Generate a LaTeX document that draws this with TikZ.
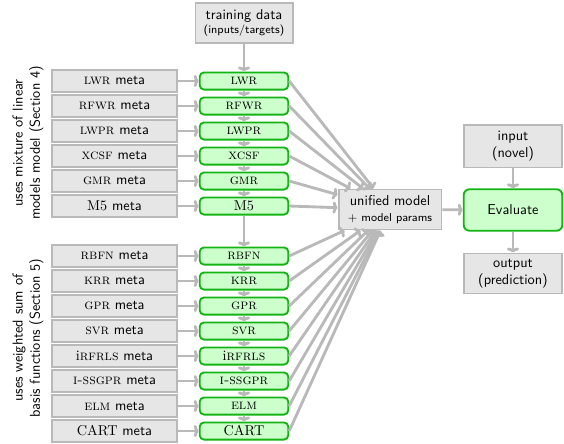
\documentclass[tikz,border=0pt]{standalone}
\usepackage{amsmath}
\usepackage{xcolor}
\usetikzlibrary{arrows.meta}

\definecolor{boxgray}{RGB}{230,230,230}
\definecolor{linegray}{RGB}{185,185,185}
\definecolor{boxgreen}{RGB}{204,255,204}
\definecolor{edgegreen}{RGB}{20,180,20}

\tikzset{
  graybox/.style = {draw = linegray, fill = boxgray, line width = 1.3pt, font = \sffamily, align = center, inner sep = 2pt},
  metabox/.style = {graybox, minimum width = 87pt, minimum height = 15pt},
  algbox/.style = {draw = edgegreen, fill = boxgreen, line width = 1.3pt, rounded corners = 3pt, minimum width = 62pt, minimum height = 12pt, inner sep = 1pt},
  flow/.style = {draw = linegray, line width = 2pt, -{To[length=3.5pt, width=8.5pt]}}
}

\begin{document}
\begin{tikzpicture}[x = 0.7pt, y = -0.7pt]
\useasboundingbox (0,0) rectangle (564,443);

\node[graybox, minimum width = 68pt, minimum height = 28pt] (train) at (244, 23) {training data\\[-2pt]{\footnotesize (inputs/targets)}};
\node[graybox, minimum width = 72pt, minimum height = 28pt] (unified) at (390, 209.5) {unified model\\[-1pt]{\footnotesize $+$ model params}};
\node[draw = edgegreen, fill = boxgreen, line width = 1.3pt, rounded corners = 4pt, font = \sffamily, minimum width = 69pt, minimum height = 29pt] (eval) at (513, 210) {Evaluate};
\node[graybox, minimum width = 69pt, minimum height = 30pt] (input) at (513, 146) {input\\(novel)};
\node[graybox, minimum width = 69pt, minimum height = 28pt] (output) at (513, 273.5) {output\\(prediction)};

\node[rotate = 90, font = \sffamily, align = center] (secfour) at (28, 143) {uses mixture of linear\\models model (Section 4)};
\node[rotate = 90, font = \sffamily, align = center] (secfive) at (28, 338) {uses weighted sum of\\basis functions (Section 5)};

\foreach \name/\lbl/\y in {lwr/\textsc{lwr}/81, rfwr/\textsc{rfwr}/106, lwpr/\textsc{lwpr}/131, xcsf/\textsc{xcsf}/156, gmr/\textsc{gmr}/181, mfive/M5/206,
  rbfn/\textsc{rbfn}/256, krr/\textsc{krr}/281, gpr/\textsc{gpr}/306, svr/\textsc{svr}/331, irfrls/i\textsc{rfrls}/356, issgpr/\textsc{i-ssgpr}/381, elm/\textsc{elm}/406, cart/CART/431}
{
  \node[metabox] (\name-meta) at (114.5, \y) {\textrm{\lbl} meta};
  \node[algbox] (\name) at (244, \y) {\lbl};
  \draw[flow] (\name-meta) -- (\name);
  \draw[flow] (\name.east) -- (unified);
}

\draw[flow] (train) -- (lwr);
\draw[flow] (lwr) -- (rfwr);
\draw[flow] (rfwr) -- (lwpr);
\draw[flow] (lwpr) -- (xcsf);
\draw[flow] (xcsf) -- (gmr);
\draw[flow] (gmr) -- (mfive);
\draw[flow] (mfive) -- (rbfn);
\draw[flow] (rbfn) -- (krr);
\draw[flow] (krr) -- (gpr);
\draw[flow] (gpr) -- (svr);
\draw[flow] (svr) -- (irfrls);
\draw[flow] (irfrls) -- (issgpr);
\draw[flow] (issgpr) -- (elm);
\draw[flow] (elm) -- (cart);

\draw[flow] (unified) -- (eval);
\draw[flow] (input) -- (eval);
\draw[flow] (eval) -- (output);
\end{tikzpicture}
\end{document}
